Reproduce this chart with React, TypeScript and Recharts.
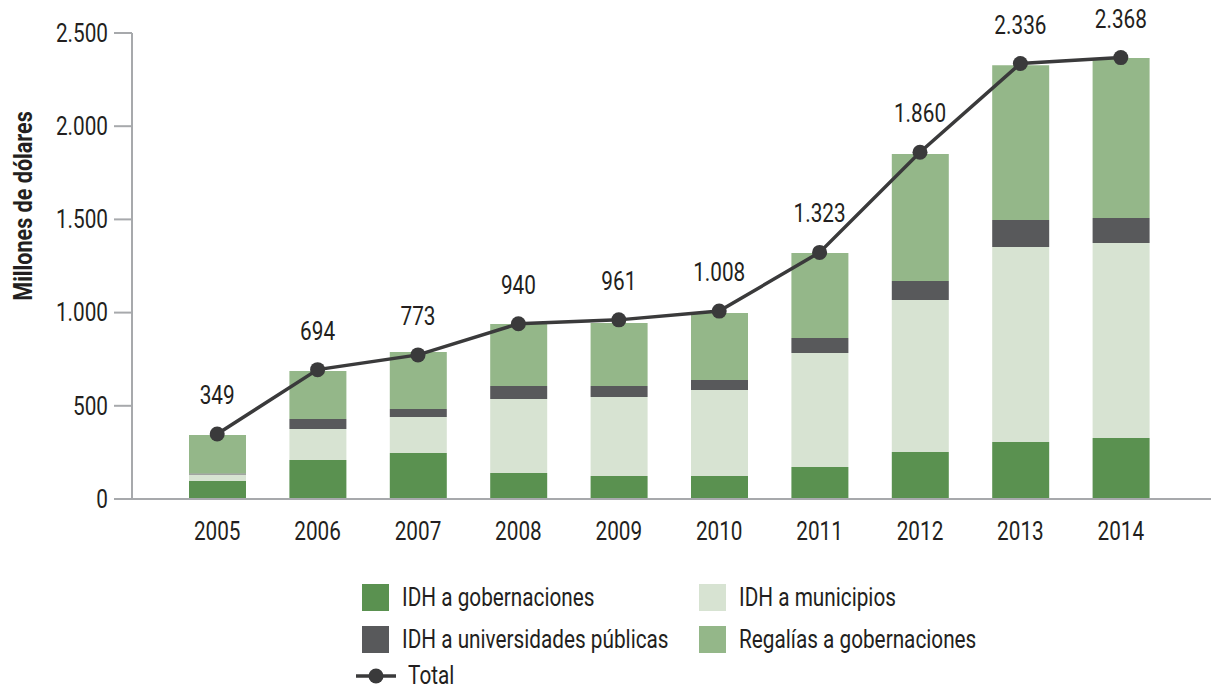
import { ComposedChart, Bar, Line, XAxis, YAxis, LabelList } from 'recharts';

const years = ['2005', '2006', '2007', '2008', '2009', '2010', '2011', '2012', '2013', '2014'];
const idhGobernaciones = [97, 209, 247, 139, 123, 123, 172, 252, 306, 327];
const idhMunicipios = [35, 166, 193, 397, 424, 462, 611, 816, 1046, 1046];
const idhUniversidades = [5, 54, 43, 70, 59, 53, 81, 102, 145, 134];
const regalias = [206, 258, 306, 333, 338, 360, 456, 681, 830, 859];
const totals = [349, 694, 773, 940, 961, 1008, 1323, 1860, 2336, 2368];
const yTicks = [0, 500, 1000, 1500, 2000, 2500];

const data = years.map((year, i) => ({
  year,
  gob: idhGobernaciones[i],
  mun: idhMunicipios[i],
  uni: idhUniversidades[i],
  reg: regalias[i],
  total: totals[i],
}));

const FONT = "Roboto, 'DejaVu Sans Condensed', sans-serif";
const SX = 0.83; // squeeze to get the condensed look
const TEXT = '#231f20';
const AXIS = '#a7a9ac';

const fmt = (n: number) => String(n).replace(/\B(?=(\d{3})+(?!\d))/g, '.');

const legendBars = [
  { name: 'IDH a gobernaciones', color: '#5a9150', x: 362, y: 584 },
  { name: 'IDH a municipios', color: '#d7e3d2', x: 699, y: 584 },
  { name: 'IDH a universidades públicas', color: '#58595b', x: 362, y: 626 },
  { name: 'Regalías a gobernaciones', color: '#94b789', x: 699, y: 626 },
];

const XTick = ({ x, y, payload }: any) => (
  <g transform={`translate(${x},${y})`}>
    <text transform={`scale(${SX},1)`} textAnchor="middle" dy="0.71em" fontSize={25} fontFamily={FONT} fill={TEXT}>
      {payload.value}
    </text>
  </g>
);

const YTick = ({ x, y, payload }: any) => (
  <g transform={`translate(${x},${y})`}>
    <text transform={`scale(${SX},1)`} textAnchor="end" dy="0.355em" fontSize={25} fontFamily={FONT} fill={TEXT}>
      {fmt(payload.value)}
    </text>
  </g>
);

const TotalLabel = (props: any) => {
  const x = props.x ?? props.viewBox?.x;
  const y = props.y ?? props.viewBox?.y;
  return (
    <g transform={`translate(${x},${y - 30})`}>
      <text transform={`scale(${SX},1)`} textAnchor="middle" fontSize={25} fontFamily={FONT} fill={TEXT}>
        {fmt(Number(props.value))}
      </text>
    </g>
  );
};

const YLabel = () => (
  <g transform="translate(32,206) rotate(-90)">
    <text transform={`scale(${SX},1)`} textAnchor="middle" fontFamily={FONT} fontWeight="bold" fontSize={26} fill={TEXT}>
      Millones de dólares
    </text>
  </g>
);

const squeeze = {
  display: 'inline-block',
  transform: `scaleX(${SX})`,
  transformOrigin: 'left center',
  whiteSpace: 'nowrap' as const,
};

export default function App() {
  return (
    <div style={{ position: 'absolute', top: 0, left: 0, width: 1211, height: 691, background: '#fff', fontFamily: FONT, overflow: 'hidden' }}>
      <ComposedChart width={1211} height={691} data={data} margin={{ top: 33, right: 0, bottom: 152, left: 0 }}>
        <XAxis
          dataKey="year"
          height={40}
          padding={{ left: 35, right: 40 }}
          stroke={AXIS}
          strokeWidth={2}
          tickLine={false}
          tickSize={0}
          tickMargin={23}
          tick={<XTick />}
        />
        <YAxis
          width={132}
          domain={[0, 2500]}
          ticks={yTicks}
          stroke={AXIS}
          strokeWidth={2}
          tickSize={18}
          tickMargin={6}
          tick={<YTick />}
          label={<YLabel />}
        />
        <Bar dataKey="gob" stackId="a" fill="#5a9150" barSize={57} isAnimationActive={false} />
        <Bar dataKey="mun" stackId="a" fill="#d7e3d2" barSize={57} isAnimationActive={false} />
        <Bar dataKey="uni" stackId="a" fill="#58595b" barSize={57} isAnimationActive={false} />
        <Bar dataKey="reg" stackId="a" fill="#94b789" barSize={57} isAnimationActive={false} />
        <Line
          dataKey="total"
          stroke="#3a3a3b"
          strokeWidth={3.5}
          dot={{ r: 7.5, fill: '#3a3a3b', stroke: '#3a3a3b', strokeWidth: 0 }}
          activeDot={false}
          isAnimationActive={false}
        >
          <LabelList dataKey="total" content={<TotalLabel />} />
        </Line>
      </ComposedChart>
      {legendBars.map((l) => (
        <div key={l.name} style={{ position: 'absolute', left: l.x, top: l.y, display: 'flex', alignItems: 'center', height: 27 }}>
          <span style={{ display: 'inline-block', width: 27, height: 27, background: l.color }} />
          <span style={{ marginLeft: 13, fontSize: 25, color: TEXT, lineHeight: '27px', ...squeeze }}>{l.name}</span>
        </div>
      ))}
      <div style={{ position: 'absolute', left: 356, top: 667, display: 'flex', alignItems: 'center', height: 18 }}>
        <svg width={40} height={18}>
          <line x1={0} y1={9} x2={40} y2={9} stroke="#3a3a3b" strokeWidth={3.5} />
          <circle cx={20} cy={9} r={7.5} fill="#3a3a3b" />
        </svg>
        <span style={{ marginLeft: 12, fontSize: 25, color: TEXT, lineHeight: '18px', ...squeeze }}>Total</span>
      </div>
    </div>
  );
}
